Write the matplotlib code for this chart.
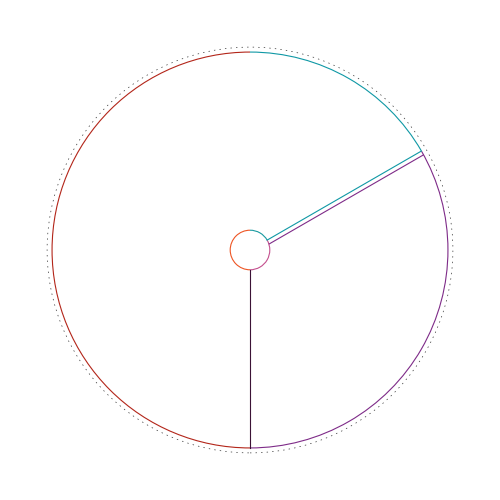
import numpy as np
import matplotlib.pyplot as plt
from matplotlib.patches import Circle, Arc

# ==== Data ====
labels = ["A", "B", "C"]
values = [3, 2, 1]
outer_colors = ["#b3261a", "#7e2b88", "#0f98a5"]
inner_colors = ["#ee5524", "#c4508e", "#1a9aa0"]

R_OUT = 1.0
R_IN = 0.1

# ==== Plot ====
fig = plt.figure(figsize=(5, 5), dpi=100)
ax = fig.add_axes([0, 0, 1, 1])

wedges, _ = ax.pie(values, startangle=90, counterclock=True, radius=R_OUT,
                   colors=["white"] * len(values),
                   wedgeprops=dict(width=R_OUT - R_IN, edgecolor="none"))

# arcs of each slice, drawn from the wedge angles
for w, co, ci in zip(wedges, outer_colors, inner_colors):
    t1, t2 = w.theta1, w.theta2
    ax.add_patch(Arc((0, 0), 2 * R_OUT, 2 * R_OUT, theta1=t1, theta2=t2,
                     edgecolor=co, linewidth=0.8))
    ax.add_patch(Arc((0, 0), 2 * R_IN, 2 * R_IN, theta1=t1, theta2=t2,
                     edgecolor=ci, linewidth=0.8))

# radial edges: bottom boundary and the split on the upper right
a = np.deg2rad(wedges[0].theta2)
ax.plot([R_IN * np.cos(a), R_OUT * np.cos(a)], [R_IN * np.sin(a), R_OUT * np.sin(a)],
        color="#3b1236", linewidth=0.8)

a = np.deg2rad(wedges[2].theta1)
gap = 0.022
nx, ny = np.sin(a), -np.cos(a)
r = np.array([R_IN, R_OUT * 0.998])
ax.plot(r * np.cos(a), r * np.sin(a), color=outer_colors[2], linewidth=0.8)
ax.plot(r * np.cos(a) + gap * nx, r * np.sin(a) + gap * ny,
        color=outer_colors[1], linewidth=0.8)

# thin dotted outer ring
ax.add_patch(Circle((0, 0), 1.025, fill=False, edgecolor="#333333",
                    linewidth=0.5, linestyle=(0, (2, 6))))

ax.set_xlim(-1.263, 1.263)
ax.set_ylim(-1.263, 1.263)
ax.set_aspect("equal")
ax.axis("off")

fig.savefig("out.png", dpi=100)
